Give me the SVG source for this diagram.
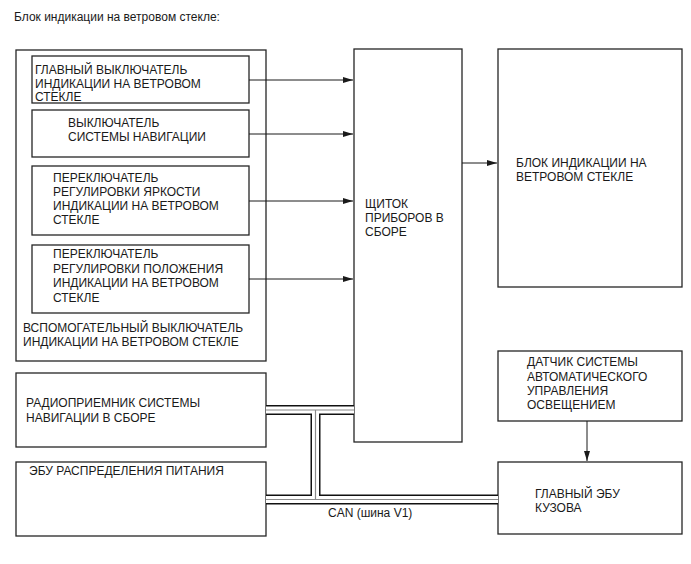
<svg xmlns="http://www.w3.org/2000/svg" width="691" height="564" viewBox="0 0 691 564">
<style>
text{font-family:"Liberation Sans",Arial,sans-serif;font-size:12px;fill:#1a1a1a}
.box{fill:#fff;stroke:#262626;stroke-width:1.3}
.arr{stroke:#1a1a1a;stroke-width:1;fill:none;marker-end:url(#ah)}
</style>
<defs>
<marker id="ah" viewBox="0 0 10 6" refX="10" refY="3" markerWidth="10" markerHeight="6" markerUnits="userSpaceOnUse" orient="auto"><path d="M0 0L10 3L0 6z" fill="#1a1a1a"/></marker>
</defs>
<rect width="691" height="564" fill="#fff"/>
<text x="14" y="21">Блок индикации на ветровом стекле:</text>

<g id="aux-switch">
<rect class="box" x="16" y="50" width="250" height="311"/>
<text x="23" y="332">ВСПОМОГАТЕЛЬНЫЙ ВЫКЛЮЧАТЕЛЬ</text>
<text x="23" y="346">ИНДИКАЦИИ НА ВЕТРОВОМ СТЕКЛЕ</text>
</g>
<g id="main-switch">
<rect class="box" x="32" y="56" width="217" height="47"/>
<text x="35" y="74">ГЛАВНЫЙ ВЫКЛЮЧАТЕЛЬ</text>
<text x="35" y="88">ИНДИКАЦИИ НА ВЕТРОВОМ</text>
<text x="35" y="101">СТЕКЛЕ</text>
</g>
<g id="nav-switch">
<rect class="box" x="32" y="110" width="217" height="47"/>
<text x="68" y="127">ВЫКЛЮЧАТЕЛЬ</text>
<text x="68" y="141">СИСТЕМЫ НАВИГАЦИИ</text>
</g>
<g id="brightness-switch">
<rect class="box" x="32" y="166" width="217" height="69"/>
<text x="53" y="182">ПЕРЕКЛЮЧАТЕЛЬ</text>
<text x="53" y="196">РЕГУЛИРОВКИ ЯРКОСТИ</text>
<text x="53" y="210">ИНДИКАЦИИ НА ВЕТРОВОМ</text>
<text x="53" y="224">СТЕКЛЕ</text>
</g>
<g id="position-switch">
<rect class="box" x="32" y="245" width="217" height="68"/>
<text x="53" y="258">ПЕРЕКЛЮЧАТЕЛЬ</text>
<text x="53" y="273">РЕГУЛИРОВКИ ПОЛОЖЕНИЯ</text>
<text x="53" y="287">ИНДИКАЦИИ НА ВЕТРОВОМ</text>
<text x="53" y="302">СТЕКЛЕ</text>
</g>
<g id="radio">
<rect class="box" x="16" y="373" width="250" height="74"/>
<text x="26" y="407">РАДИОПРИЕМНИК СИСТЕМЫ</text>
<text x="26" y="422">НАВИГАЦИИ В СБОРЕ</text>
</g>
<g id="power-ecu">
<rect class="box" x="16" y="462" width="250" height="74"/>
<text x="29" y="475">ЭБУ РАСПРЕДЕЛЕНИЯ ПИТАНИЯ</text>
</g>
<g id="combination-meter">
<rect class="box" x="354" y="49" width="108" height="393"/>
<text x="365" y="208">ЩИТОК</text>
<text x="365" y="222">ПРИБОРОВ В</text>
<text x="365" y="236">СБОРЕ</text>
</g>
<g id="hud">
<rect class="box" x="498" y="49" width="184" height="238"/>
<text x="516" y="167">БЛОК ИНДИКАЦИИ НА</text>
<text x="516" y="181">ВЕТРОВОМ СТЕКЛЕ</text>
</g>
<g id="light-sensor">
<rect class="box" x="498" y="351" width="184" height="70"/>
<text x="527" y="366">ДАТЧИК СИСТЕМЫ</text>
<text x="527" y="381">АВТОМАТИЧЕСКОГО</text>
<text x="527" y="395">УПРАВЛЕНИЯ</text>
<text x="527" y="409">ОСВЕЩЕНИЕМ</text>
</g>
<g id="body-ecu">
<rect class="box" x="498" y="462" width="184" height="72"/>
<text x="535" y="498">ГЛАВНЫЙ ЭБУ</text>
<text x="535" y="512">КУЗОВА</text>
</g>

<g id="connectors">
<path class="arr" d="M249 80H353"/>
<path class="arr" d="M249 134H353"/>
<path class="arr" d="M249 201H353"/>
<path class="arr" d="M249 279H353"/>
<path class="arr" d="M462 163H497"/>
<path class="arr" d="M587 421V461"/>
<path d="M266 410H354M315.5 410V499.5M266 499.5H498" fill="none" stroke="#111" stroke-width="10"/>
<path d="M266 410H354M315.5 410V499.5M266 499.5H498" fill="none" stroke="#fff" stroke-width="7"/>
<path d="M266 410H354M315.5 410V499.5M266 499.5H498" fill="none" stroke="#8a8a8a" stroke-width="1.2"/>
<text x="328" y="517">CAN (шина V1)</text>
</g>
</svg>
